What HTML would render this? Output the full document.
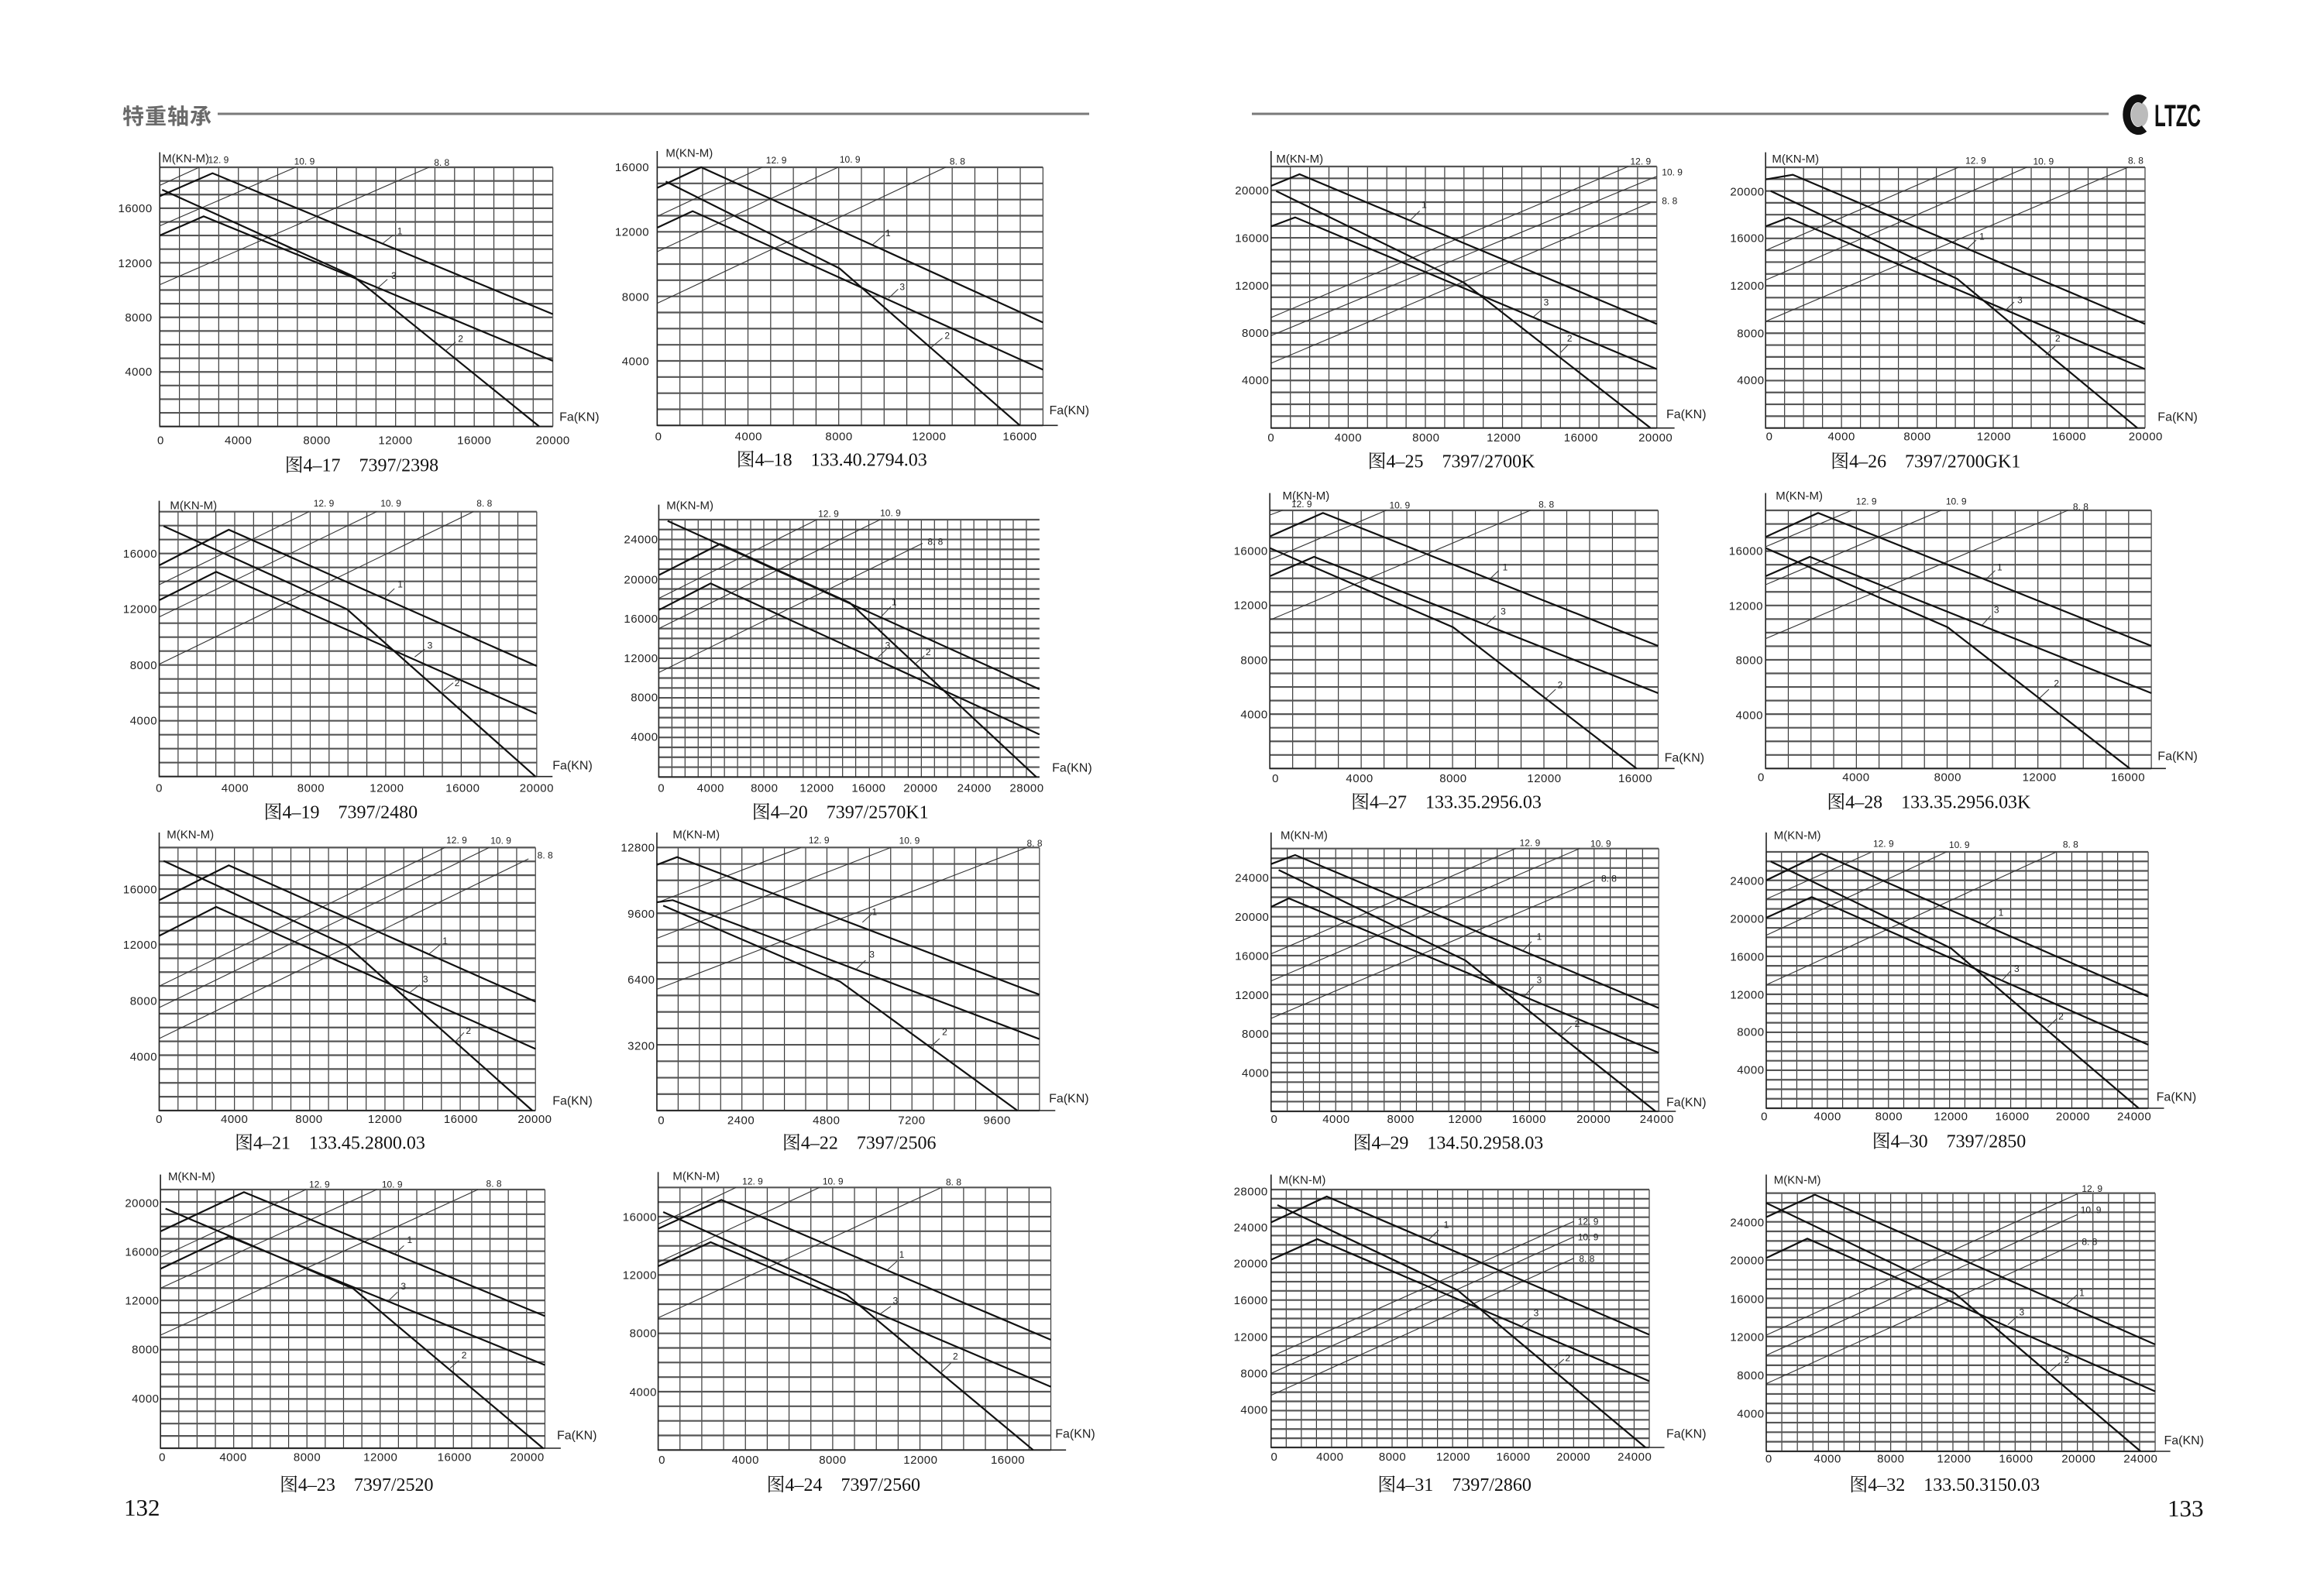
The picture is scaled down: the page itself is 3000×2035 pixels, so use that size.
<!DOCTYPE html>
<html><head><meta charset="utf-8">
<style>
html,body{margin:0;padding:0;background:#fff}
svg{display:block}
.z path{vector-effect:non-scaling-stroke;fill:none}
.gv{stroke:#3a3a3a;stroke-width:1.2}
.gh{stroke:#555;stroke-width:2.2}
.ax{stroke:#222;stroke-width:1.6}
.gr{stroke:#333;stroke-width:1.1}
.cv{stroke:#111;stroke-width:2.2}
.ld{stroke:#333;stroke-width:1}
text{font-family:"Liberation Sans",Arial,sans-serif;fill:#222}
.tk{font-size:45px;letter-spacing:1.5px}
.gl{font-size:36px}
.nl{font-size:36px}
.ml{font-size:45px}
.fa{font-size:48px}
.cap{font-family:"Liberation Serif","Noto Serif CJK SC",serif;font-size:72px;fill:#111}
</style></head><body>
<svg width="3000" height="2035" viewBox="0 0 3000 2035" xmlns="http://www.w3.org/2000/svg">
<rect width="3000" height="2035" fill="#fff"/>
<!-- header -->
<text x="158" y="160" style="font-family:'Noto Sans CJK SC','Liberation Sans',sans-serif;font-size:28px;font-weight:bold;fill:#6a6a6a;letter-spacing:1px">特重轴承</text>
<line x1="281" y1="147" x2="1406" y2="147" stroke="#7a7a7a" stroke-width="3"/>
<line x1="1616" y1="147" x2="2722" y2="147" stroke="#7a7a7a" stroke-width="3"/>
<ellipse cx="2762" cy="148" rx="11" ry="16" fill="#bbb"/>
<path d="M2768,130 A15,21 0 1 0 2768,166" stroke="#111" stroke-width="10" fill="none"/>
<text x="2781" y="163" textLength="60" lengthAdjust="spacingAndGlyphs" style="font-family:'Liberation Sans',sans-serif;font-weight:bold;font-size:40px;fill:#111">LTZC</text>
<text x="160" y="1957" style="font-family:'Liberation Serif',serif;font-size:31px;fill:#111">132</text>
<text x="2798" y="1958" style="font-family:'Liberation Serif',serif;font-size:31px;fill:#111">133</text>

<!-- Z1: 4-17 -->
<svg class="z" x="150" y="190" width="600" height="440" viewBox="0 0 1568 1320" preserveAspectRatio="none" overflow="visible">
<path class="gv" d="M147,78v1004m66.3-1004v1004m66.3-1004v1004m66.3-1004v1004m66.3-1004v1004m66.3-1004v1004m66.3-1004v1004m66.3-1004v1004m66.3-1004v1004m66.3-1004v1004m66.3-1004v1004m66.3-1004v1004m66.3-1004v1004m66.3-1004v1004m66.3-1004v1004m66.3-1004v1004m66.3-1004v1004m66.3-1004v1004m66.3-1004v1004m66.3-1004v1004m66.3-1004v1004"/>
<path class="gh" d="M147,1082h1326m-1326-52.84h1326m-1326-52.84h1326m-1326-52.84h1326m-1326-52.84h1326m-1326-52.84h1326m-1326-52.84h1326m-1326-52.84h1326m-1326-52.84h1326m-1326-52.84h1326m-1326-52.84h1326m-1326-52.84h1326m-1326-52.84h1326m-1326-52.84h1326m-1326-52.84h1326m-1326-52.84h1326m-1326-52.84h1326m-1326-52.84h1326m-1326-52.84h1326m-1326-52.84h1326"/>
<path class="ax" d="M147,20V1082H1473"/>
<path class="gr" d="M147,148L280,78M147,305L605,78M147,533L1055,78"/>
<path class="cv" d="M147,190L325,101L1473,647M155,165L800,500L1427,1082M147,342L295,268L800,505L1473,828"/>
<path class="ld" d="M900,372L935,340M880,548L915,512M1110,790L1145,755"/>
<g class="tk" text-anchor="end">
<text transform="translate(122 252)scale(.871 1)">16000</text>
<text transform="translate(122 465)scale(.871 1)">12000</text>
<text transform="translate(122 675)scale(.871 1)">8000</text>
<text transform="translate(122 885)scale(.871 1)">4000</text>
</g>
<g class="tk" text-anchor="middle">
<text transform="translate(150 1150)scale(.871 1)">0</text>
<text transform="translate(412 1150)scale(.871 1)">4000</text>
<text transform="translate(677 1150)scale(.871 1)">8000</text>
<text transform="translate(942 1150)scale(.871 1)">12000</text>
<text transform="translate(1208 1150)scale(.871 1)">16000</text>
<text transform="translate(1473 1150)scale(.871 1)">20000</text>
</g>
<text class="ml" transform="translate(155 58)scale(.871 1)">M(KN-M)</text>
<g class="gl">
<text transform="translate(310 62)scale(.871 1)">12. 9</text>
<text transform="translate(600 68)scale(.871 1)">10. 9</text>
<text transform="translate(1072 72)scale(.871 1)">8. 8</text>
<text transform="translate(948 337)scale(.871 1)">1</text>
<text transform="translate(928 510)scale(.871 1)">3</text>
<text transform="translate(1153 755)scale(.871 1)">2</text>
</g>
<text class="fa" transform="translate(1495 1060)scale(.871 1)">Fa(KN)</text>
<text class="cap" text-anchor="middle" transform="translate(828 1255)scale(.871 1)">图4–17　7397/2398</text>
</svg>

<!-- Z3: 4-18 -->
<svg class="z" x="790" y="185" width="640" height="440" viewBox="0 0 1568 1320" preserveAspectRatio="none" overflow="visible">
<path class="gv" d="M143,93v1000m71.765-1000v1000m71.765-1000v1000m71.765-1000v1000m71.765-1000v1000m71.765-1000v1000m71.765-1000v1000m71.765-1000v1000m71.765-1000v1000m71.765-1000v1000m71.765-1000v1000m71.765-1000v1000m71.765-1000v1000m71.765-1000v1000m71.765-1000v1000m71.765-1000v1000m71.765-1000v1000m71.765-1000v1000"/>
<path class="gh" d="M143,1093h1220m-1220-62.5h1220m-1220-62.5h1220m-1220-62.5h1220m-1220-62.5h1220m-1220-62.5h1220m-1220-62.5h1220m-1220-62.5h1220m-1220-62.5h1220m-1220-62.5h1220m-1220-62.5h1220m-1220-62.5h1220m-1220-62.5h1220m-1220-62.5h1220m-1220-62.5h1220m-1220-62.5h1220m-1220-62.5h1220"/>
<path class="ax" d="M143,30V1093H1410"/>
<path class="gr" d="M143,283L475,93M143,420L715,93M143,620L1055,93"/>
<path class="cv" d="M143,173L282,93L1363,694M170,148L720,485L1290,1093M143,327L255,263L1363,877"/>
<path class="ld" d="M825,392L860,355M875,600L905,565M1010,790L1045,755"/>
<g class="tk" text-anchor="end">
<text transform="translate(118 108)scale(.817 1)">16000</text>
<text transform="translate(118 358)scale(.817 1)">12000</text>
<text transform="translate(118 610)scale(.817 1)">8000</text>
<text transform="translate(118 860)scale(.817 1)">4000</text>
</g>
<g class="tk" text-anchor="middle">
<text transform="translate(147 1150)scale(.817 1)">0</text>
<text transform="translate(432 1150)scale(.817 1)">4000</text>
<text transform="translate(718 1150)scale(.817 1)">8000</text>
<text transform="translate(1003 1150)scale(.817 1)">12000</text>
<text transform="translate(1290 1150)scale(.817 1)">16000</text>
</g>
<text class="ml" transform="translate(170 52)scale(.817 1)">M(KN-M)</text>
<g class="gl">
<text transform="translate(487 78)scale(.817 1)">12. 9</text>
<text transform="translate(720 75)scale(.817 1)">10. 9</text>
<text transform="translate(1068 82)scale(.817 1)">8. 8</text>
<text transform="translate(865 360)scale(.817 1)">1</text>
<text transform="translate(910 568)scale(.817 1)">3</text>
<text transform="translate(1052 758)scale(.817 1)">2</text>
</g>
<text class="fa" transform="translate(1383 1050)scale(.817 1)">Fa(KN)</text>
<text class="cap" text-anchor="middle" transform="translate(695 1250)scale(.817 1)">图4–18　133.40.2794.03</text>
</svg>

<!-- Z4: 4-19, 4-20 -->
<svg class="z" x="150" y="640" width="1280" height="440" viewBox="0 0 1568 1320" preserveAspectRatio="none" overflow="visible">
<path class="gv" d="M68,62v1026m29.85-1026v1026m29.85-1026v1026m29.85-1026v1026m29.85-1026v1026m29.85-1026v1026m29.85-1026v1026m29.85-1026v1026m29.85-1026v1026m29.85-1026v1026m29.85-1026v1026m29.85-1026v1026m29.85-1026v1026m29.85-1026v1026m29.85-1026v1026m29.85-1026v1026m29.85-1026v1026m29.85-1026v1026m29.85-1026v1026m29.85-1026v1026m29.85-1026v1026"/>
<path class="gh" d="M68,1088h597m-597-54h597m-597-54h597m-597-54h597m-597-54h597m-597-54h597m-597-54h597m-597-54h597m-597-54h597m-597-54h597m-597-54h597m-597-54h597m-597-54h597m-597-54h597m-597-54h597m-597-54h597m-597-54h597m-597-54h597m-597-54h597m-597-54h597"/>
<path class="ax" d="M68,20V1088H690"/>
<path class="gr" d="M68,345L305,62M68,470L412,62M68,653L565,62"/>
<path class="cv" d="M68,270L178,132L665,660M75,118L365,440L663,1088M68,405L158,295L665,845"/>
<path class="ld" d="M425,395L440,360M472,625L488,595M518,755L533,725"/>
<g class="tk" text-anchor="end">
<text transform="translate(65 240)scale(.4083 1)">16000</text>
<text transform="translate(65 455)scale(.4083 1)">12000</text>
<text transform="translate(65 672)scale(.4083 1)">8000</text>
<text transform="translate(65 887)scale(.4083 1)">4000</text>
</g>
<g class="tk" text-anchor="middle">
<text transform="translate(68 1147)scale(.4083 1)">0</text>
<text transform="translate(188 1147)scale(.4083 1)">4000</text>
<text transform="translate(308 1147)scale(.4083 1)">8000</text>
<text transform="translate(428 1147)scale(.4083 1)">12000</text>
<text transform="translate(548 1147)scale(.4083 1)">16000</text>
<text transform="translate(665 1147)scale(.4083 1)">20000</text>
</g>
<text class="ml" transform="translate(85 52)scale(.4083 1)">M(KN-M)</text>
<g class="gl">
<text transform="translate(312 42)scale(.4083 1)">12. 9</text>
<text transform="translate(418 42)scale(.4083 1)">10. 9</text>
<text transform="translate(570 42)scale(.4083 1)">8. 8</text>
<text transform="translate(445 355)scale(.4083 1)">1</text>
<text transform="translate(492 592)scale(.4083 1)">3</text>
<text transform="translate(535 738)scale(.4083 1)">2</text>
</g>
<text class="fa" transform="translate(690 1060)scale(.4083 1)">Fa(KN)</text>
<text class="cap" text-anchor="middle" transform="translate(355 1250)scale(.4083 1)">图4–19　7397/2480</text>

<path class="gv" d="M858,93v997m20.76-997v997m20.76-997v997m20.76-997v997m20.76-997v997m20.76-997v997m20.76-997v997m20.76-997v997m20.76-997v997m20.76-997v997m20.76-997v997m20.76-997v997m20.76-997v997m20.76-997v997m20.76-997v997m20.76-997v997m20.76-997v997m20.76-997v997m20.76-997v997m20.76-997v997m20.76-997v997m20.76-997v997m20.76-997v997m20.76-997v997m20.76-997v997m20.76-997v997m20.76-997v997m20.76-997v997m20.76-997v997"/>
<path class="gh" d="M858,1090h602m-602-38.346h602m-602-38.346h602m-602-38.346h602m-602-38.346h602m-602-38.346h602m-602-38.346h602m-602-38.346h602m-602-38.346h602m-602-38.346h602m-602-38.346h602m-602-38.346h602m-602-38.346h602m-602-38.346h602m-602-38.346h602m-602-38.346h602m-602-38.346h602m-602-38.346h602m-602-38.346h602m-602-38.346h602m-602-38.346h602m-602-38.346h602m-602-38.346h602m-602-38.346h602m-602-38.346h602m-602-38.346h602m-602-38.346h602"/>
<path class="ax" d="M858,35V1090H1460"/>
<path class="gr" d="M858,398L1108,93M858,515L1208,93M858,685L1275,185"/>
<path class="cv" d="M872,98L1460,750M858,308L955,187L1160,415L1455,1090M858,443L940,340L1460,925"/>
<path class="ld" d="M1210,468L1225,430M1205,625L1218,595M1262,655L1278,620"/>
<g class="tk" text-anchor="end">
<text transform="translate(857 185)scale(.4083 1)">24000</text>
<text transform="translate(857 340)scale(.4083 1)">20000</text>
<text transform="translate(857 492)scale(.4083 1)">16000</text>
<text transform="translate(857 645)scale(.4083 1)">12000</text>
<text transform="translate(857 797)scale(.4083 1)">8000</text>
<text transform="translate(857 950)scale(.4083 1)">4000</text>
</g>
<g class="tk" text-anchor="middle">
<text transform="translate(862 1147)scale(.4083 1)">0</text>
<text transform="translate(940 1147)scale(.4083 1)">4000</text>
<text transform="translate(1025 1147)scale(.4083 1)">8000</text>
<text transform="translate(1108 1147)scale(.4083 1)">12000</text>
<text transform="translate(1190 1147)scale(.4083 1)">16000</text>
<text transform="translate(1272 1147)scale(.4083 1)">20000</text>
<text transform="translate(1357 1147)scale(.4083 1)">24000</text>
<text transform="translate(1440 1147)scale(.4083 1)">28000</text>
</g>
<text class="ml" transform="translate(870 52)scale(.4083 1)">M(KN-M)</text>
<g class="gl">
<text transform="translate(1110 82)scale(.4083 1)">12. 9</text>
<text transform="translate(1208 80)scale(.4083 1)">10. 9</text>
<text transform="translate(1283 190)scale(.4083 1)">8. 8</text>
<text transform="translate(1226 425)scale(.4083 1)">1</text>
<text transform="translate(1216 592)scale(.4083 1)">3</text>
<text transform="translate(1280 618)scale(.4083 1)">2</text>
</g>
<text class="fa" transform="translate(1480 1070)scale(.4083 1)">Fa(KN)</text>
<text class="cap" text-anchor="middle" transform="translate(1145 1250)scale(.4083 1)">图4–20　7397/2570K1</text>
</svg>

<!-- Z5: 4-21, 4-22 -->
<svg class="z" x="150" y="1085" width="1280" height="440" viewBox="0 0 1568 1320" preserveAspectRatio="none" overflow="visible">
<path class="gv" d="M68,28v1019m29.75-1019v1019m29.75-1019v1019m29.75-1019v1019m29.75-1019v1019m29.75-1019v1019m29.75-1019v1019m29.75-1019v1019m29.75-1019v1019m29.75-1019v1019m29.75-1019v1019m29.75-1019v1019m29.75-1019v1019m29.75-1019v1019m29.75-1019v1019m29.75-1019v1019m29.75-1019v1019m29.75-1019v1019m29.75-1019v1019m29.75-1019v1019m29.75-1019v1019"/>
<path class="gh" d="M68,1047h595m-595-53.63h595m-595-53.63h595m-595-53.63h595m-595-53.63h595m-595-53.63h595m-595-53.63h595m-595-53.63h595m-595-53.63h595m-595-53.63h595m-595-53.63h595m-595-53.63h595m-595-53.63h595m-595-53.63h595m-595-53.63h595m-595-53.63h595m-595-53.63h595m-595-53.63h595m-595-53.63h595m-595-53.63h595"/>
<path class="ax" d="M68,-30V1047H663"/>
<path class="gr" d="M68,565L520,28M68,648L590,28M68,768L652,72"/>
<path class="cv" d="M68,232L178,97L663,625M75,80L365,408L658,1047M68,370L158,258L663,808"/>
<path class="ld" d="M495,440L512,405M465,588L480,560M537,778L550,745"/>
<g class="tk" text-anchor="end">
<text transform="translate(65 205)scale(.4083 1)">16000</text>
<text transform="translate(65 420)scale(.4083 1)">12000</text>
<text transform="translate(65 637)scale(.4083 1)">8000</text>
<text transform="translate(65 853)scale(.4083 1)">4000</text>
</g>
<g class="tk" text-anchor="middle">
<text transform="translate(68 1095)scale(.4083 1)">0</text>
<text transform="translate(187 1095)scale(.4083 1)">4000</text>
<text transform="translate(305 1095)scale(.4083 1)">8000</text>
<text transform="translate(425 1095)scale(.4083 1)">12000</text>
<text transform="translate(545 1095)scale(.4083 1)">16000</text>
<text transform="translate(662 1095)scale(.4083 1)">20000</text>
</g>
<text class="ml" transform="translate(80 -8)scale(.4083 1)">M(KN-M)</text>
<g class="gl">
<text transform="translate(522 12)scale(.4083 1)">12. 9</text>
<text transform="translate(592 14)scale(.4083 1)">10. 9</text>
<text transform="translate(666 70)scale(.4083 1)">8. 8</text>
<text transform="translate(516 402)scale(.4083 1)">1</text>
<text transform="translate(485 550)scale(.4083 1)">3</text>
<text transform="translate(553 750)scale(.4083 1)">2</text>
</g>
<text class="fa" transform="translate(690 1025)scale(.4083 1)">Fa(KN)</text>
<text class="cap" text-anchor="middle" transform="translate(338 1195)scale(.4083 1)">图4–21　133.45.2800.03</text>

<path class="gv" d="M855,28v1019m33.61-1019v1019m33.61-1019v1019m33.61-1019v1019m33.61-1019v1019m33.61-1019v1019m33.61-1019v1019m33.61-1019v1019m33.61-1019v1019m33.61-1019v1019m33.61-1019v1019m33.61-1019v1019m33.61-1019v1019m33.61-1019v1019m33.61-1019v1019m33.61-1019v1019m33.61-1019v1019m33.61-1019v1019m33.61-1019v1019"/>
<path class="gh" d="M855,1047h605m-605-63.69h605m-605-63.69h605m-605-63.69h605m-605-63.69h605m-605-63.69h605m-605-63.69h605m-605-63.69h605m-605-63.69h605m-605-63.69h605m-605-63.69h605m-605-63.69h605m-605-63.69h605m-605-63.69h605m-605-63.69h605m-605-63.69h605m-605-63.69h605"/>
<path class="ax" d="M855,-30V1047H1485"/>
<path class="gr" d="M855,242L1083,28M855,380L1225,28M855,577L1440,28"/>
<path class="cv" d="M855,95L887,65L1460,598M855,240L880,232L1460,770M865,253L1145,548L1425,1047"/>
<path class="ld" d="M1180,318L1195,285M1170,500L1185,465M1288,800L1302,768"/>
<g class="tk" text-anchor="end">
<text transform="translate(852 43)scale(.4083 1)">12800</text>
<text transform="translate(852 300)scale(.4083 1)">9600</text>
<text transform="translate(852 555)scale(.4083 1)">6400</text>
<text transform="translate(852 812)scale(.4083 1)">3200</text>
</g>
<g class="tk" text-anchor="middle">
<text transform="translate(862 1100)scale(.4083 1)">0</text>
<text transform="translate(988 1100)scale(.4083 1)">2400</text>
<text transform="translate(1123 1100)scale(.4083 1)">4800</text>
<text transform="translate(1258 1100)scale(.4083 1)">7200</text>
<text transform="translate(1393 1100)scale(.4083 1)">9600</text>
</g>
<text class="ml" transform="translate(880 -8)scale(.4083 1)">M(KN-M)</text>
<g class="gl">
<text transform="translate(1095 12)scale(.4083 1)">12. 9</text>
<text transform="translate(1238 14)scale(.4083 1)">10. 9</text>
<text transform="translate(1440 24)scale(.4083 1)">8. 8</text>
<text transform="translate(1195 290)scale(.4083 1)">1</text>
<text transform="translate(1191 455)scale(.4083 1)">3</text>
<text transform="translate(1306 755)scale(.4083 1)">2</text>
</g>
<text class="fa" transform="translate(1475 1015)scale(.4083 1)">Fa(KN)</text>
<text class="cap" text-anchor="middle" transform="translate(1175 1195)scale(.4083 1)">图4–22　7397/2506</text>
</svg>

<!-- Z6: 4-23, 4-24 -->
<svg class="z" x="150" y="1520" width="1280" height="440" viewBox="0 0 1568 1320" preserveAspectRatio="none" overflow="visible">
<path class="gv" d="M70,48v1002m28.95-1002v1002m28.95-1002v1002m28.95-1002v1002m28.95-1002v1002m28.95-1002v1002m28.95-1002v1002m28.95-1002v1002m28.95-1002v1002m28.95-1002v1002m28.95-1002v1002m28.95-1002v1002m28.95-1002v1002m28.95-1002v1002m28.95-1002v1002m28.95-1002v1002m28.95-1002v1002m28.95-1002v1002m28.95-1002v1002m28.95-1002v1002m28.95-1002v1002m28.95-1002v1002"/>
<path class="gh" d="M70,1050h608m-608-47.71h608m-608-47.71h608m-608-47.71h608m-608-47.71h608m-608-47.71h608m-608-47.71h608m-608-47.71h608m-608-47.71h608m-608-47.71h608m-608-47.71h608m-608-47.71h608m-608-47.71h608m-608-47.71h608m-608-47.71h608m-608-47.71h608m-608-47.71h608m-608-47.71h608m-608-47.71h608m-608-47.71h608m-608-47.71h608m-608-47.71h608"/>
<path class="ax" d="M70,-10V1050H703"/>
<path class="gr" d="M70,310L300,48M70,430L412,48M70,612L572,48"/>
<path class="cv" d="M70,210L202,58L678,538M78,122L375,432L675,1050M70,355L178,230L678,728"/>
<path class="ld" d="M440,298L455,265M430,480L445,445M528,740L542,710"/>
<g class="tk" text-anchor="end">
<text transform="translate(68 115)scale(.4083 1)">20000</text>
<text transform="translate(68 305)scale(.4083 1)">16000</text>
<text transform="translate(68 493)scale(.4083 1)">12000</text>
<text transform="translate(68 683)scale(.4083 1)">8000</text>
<text transform="translate(68 873)scale(.4083 1)">4000</text>
</g>
<g class="tk" text-anchor="middle">
<text transform="translate(73 1100)scale(.4083 1)">0</text>
<text transform="translate(185 1100)scale(.4083 1)">4000</text>
<text transform="translate(302 1100)scale(.4083 1)">8000</text>
<text transform="translate(418 1100)scale(.4083 1)">12000</text>
<text transform="translate(535 1100)scale(.4083 1)">16000</text>
<text transform="translate(650 1100)scale(.4083 1)">20000</text>
</g>
<text class="ml" transform="translate(82 12)scale(.4083 1)">M(KN-M)</text>
<g class="gl">
<text transform="translate(305 40)scale(.4083 1)">12. 9</text>
<text transform="translate(420 40)scale(.4083 1)">10. 9</text>
<text transform="translate(585 38)scale(.4083 1)">8. 8</text>
<text transform="translate(460 255)scale(.4083 1)">1</text>
<text transform="translate(450 435)scale(.4083 1)">3</text>
<text transform="translate(546 702)scale(.4083 1)">2</text>
</g>
<text class="fa" transform="translate(697 1015)scale(.4083 1)">Fa(KN)</text>
<text class="cap" text-anchor="middle" transform="translate(380 1215)scale(.4083 1)">图4–23　7397/2520</text>

<path class="gv" d="M857,40v1017m34.5-1017v1017m34.5-1017v1017m34.5-1017v1017m34.5-1017v1017m34.5-1017v1017m34.5-1017v1017m34.5-1017v1017m34.5-1017v1017m34.5-1017v1017m34.5-1017v1017m34.5-1017v1017m34.5-1017v1017m34.5-1017v1017m34.5-1017v1017m34.5-1017v1017m34.5-1017v1017m34.5-1017v1017m34.5-1017v1017"/>
<path class="gh" d="M857,1057h621m-621-56.5h621m-621-56.5h621m-621-56.5h621m-621-56.5h621m-621-56.5h621m-621-56.5h621m-621-56.5h621m-621-56.5h621m-621-56.5h621m-621-56.5h621m-621-56.5h621m-621-56.5h621m-621-56.5h621m-621-56.5h621m-621-56.5h621m-621-56.5h621m-621-56.5h621m-621-56.5h621"/>
<path class="ax" d="M857,-20V1057H1502"/>
<path class="gr" d="M857,182L980,40M857,330L1112,40M857,545L1305,40"/>
<path class="cv" d="M857,200L957,88L1478,630M865,135L1155,455L1450,1057M857,345L940,252L1478,812"/>
<path class="ld" d="M1220,358L1235,325M1208,530L1225,500M1305,755L1320,720"/>
<g class="tk" text-anchor="end">
<text transform="translate(855 170)scale(.4083 1)">16000</text>
<text transform="translate(855 395)scale(.4083 1)">12000</text>
<text transform="translate(855 620)scale(.4083 1)">8000</text>
<text transform="translate(855 847)scale(.4083 1)">4000</text>
</g>
<g class="tk" text-anchor="middle">
<text transform="translate(863 1110)scale(.4083 1)">0</text>
<text transform="translate(995 1110)scale(.4083 1)">4000</text>
<text transform="translate(1133 1110)scale(.4083 1)">8000</text>
<text transform="translate(1272 1110)scale(.4083 1)">12000</text>
<text transform="translate(1410 1110)scale(.4083 1)">16000</text>
</g>
<text class="ml" transform="translate(880 10)scale(.4083 1)">M(KN-M)</text>
<g class="gl">
<text transform="translate(990 28)scale(.4083 1)">12. 9</text>
<text transform="translate(1117 28)scale(.4083 1)">10. 9</text>
<text transform="translate(1312 32)scale(.4083 1)">8. 8</text>
<text transform="translate(1238 312)scale(.4083 1)">1</text>
<text transform="translate(1228 490)scale(.4083 1)">3</text>
<text transform="translate(1323 707)scale(.4083 1)">2</text>
</g>
<text class="fa" transform="translate(1485 1010)scale(.4083 1)">Fa(KN)</text>
<text class="cap" text-anchor="middle" transform="translate(1150 1215)scale(.4083 1)">图4–24　7397/2560</text>
</svg>

<!-- Z7: 4-25, 4-26 -->
<svg class="z" x="1600" y="185" width="1280" height="440" viewBox="0 0 1568 1320" preserveAspectRatio="none" overflow="visible">
<path class="gv" d="M50,90v1013m30.5-1013v1013m30.5-1013v1013m30.5-1013v1013m30.5-1013v1013m30.5-1013v1013m30.5-1013v1013m30.5-1013v1013m30.5-1013v1013m30.5-1013v1013m30.5-1013v1013m30.5-1013v1013m30.5-1013v1013m30.5-1013v1013m30.5-1013v1013m30.5-1013v1013m30.5-1013v1013m30.5-1013v1013m30.5-1013v1013m30.5-1013v1013m30.5-1013v1013"/>
<path class="gh" d="M50,1103h610m-610-46.05h610m-610-46.05h610m-610-46.05h610m-610-46.05h610m-610-46.05h610m-610-46.05h610m-610-46.05h610m-610-46.05h610m-610-46.05h610m-610-46.05h610m-610-46.05h610m-610-46.05h610m-610-46.05h610m-610-46.05h610m-610-46.05h610m-610-46.05h610m-610-46.05h610m-610-46.05h610m-610-46.05h610m-610-46.05h610m-610-46.05h610m-610-46.05h610"/>
<path class="ax" d="M50,30V1103H688"/>
<path class="gr" d="M50,675L615,90M50,745L660,128M50,852L650,230"/>
<path class="cv" d="M50,165L95,120L660,700M58,185L355,540L650,1103M50,322L88,287L660,875"/>
<path class="ld" d="M270,298L285,262M465,672L480,640M508,810L520,780"/>
<g class="tk" text-anchor="end">
<text transform="translate(47 198)scale(.4083 1)">20000</text>
<text transform="translate(47 382)scale(.4083 1)">16000</text>
<text transform="translate(47 567)scale(.4083 1)">12000</text>
<text transform="translate(47 750)scale(.4083 1)">8000</text>
<text transform="translate(47 933)scale(.4083 1)">4000</text>
</g>
<g class="tk" text-anchor="middle">
<text transform="translate(50 1155)scale(.4083 1)">0</text>
<text transform="translate(172 1155)scale(.4083 1)">4000</text>
<text transform="translate(295 1155)scale(.4083 1)">8000</text>
<text transform="translate(418 1155)scale(.4083 1)">12000</text>
<text transform="translate(540 1155)scale(.4083 1)">16000</text>
<text transform="translate(658 1155)scale(.4083 1)">20000</text>
</g>
<text class="ml" transform="translate(58 75)scale(.4083 1)">M(KN-M)</text>
<g class="gl">
<text transform="translate(618 82)scale(.4083 1)">12. 9</text>
<text transform="translate(668 125)scale(.4083 1)">10. 9</text>
<text transform="translate(668 235)scale(.4083 1)">8. 8</text>
<text transform="translate(288 250)scale(.4083 1)">1</text>
<text transform="translate(481 628)scale(.4083 1)">3</text>
<text transform="translate(518 768)scale(.4083 1)">2</text>
</g>
<text class="fa" transform="translate(675 1065)scale(.4083 1)">Fa(KN)</text>
<text class="cap" text-anchor="middle" transform="translate(335 1255)scale(.4083 1)">图4–25　7397/2700K</text>

<path class="gv" d="M832,93v1010m30-1010v1010m30-1010v1010m30-1010v1010m30-1010v1010m30-1010v1010m30-1010v1010m30-1010v1010m30-1010v1010m30-1010v1010m30-1010v1010m30-1010v1010m30-1010v1010m30-1010v1010m30-1010v1010m30-1010v1010m30-1010v1010m30-1010v1010m30-1010v1010m30-1010v1010m30-1010v1010"/>
<path class="gh" d="M832,1103h600m-600-45.91h600m-600-45.91h600m-600-45.91h600m-600-45.91h600m-600-45.91h600m-600-45.91h600m-600-45.91h600m-600-45.91h600m-600-45.91h600m-600-45.91h600m-600-45.91h600m-600-45.91h600m-600-45.91h600m-600-45.91h600m-600-45.91h600m-600-45.91h600m-600-45.91h600m-600-45.91h600m-600-45.91h600m-600-45.91h600m-600-45.91h600m-600-45.91h600"/>
<path class="ax" d="M832,35V1103H1432"/>
<path class="gr" d="M832,415L1137,93M832,530L1245,93M832,690L1405,93"/>
<path class="cv" d="M832,140L875,122L1432,700M840,185L1135,525L1420,1103M832,322L868,288L1432,875"/>
<path class="ld" d="M1150,410L1165,375M1210,650L1225,615M1275,820L1290,785"/>
<g class="tk" text-anchor="end">
<text transform="translate(830 202)scale(.4083 1)">20000</text>
<text transform="translate(830 383)scale(.4083 1)">16000</text>
<text transform="translate(830 567)scale(.4083 1)">12000</text>
<text transform="translate(830 752)scale(.4083 1)">8000</text>
<text transform="translate(830 933)scale(.4083 1)">4000</text>
</g>
<g class="tk" text-anchor="middle">
<text transform="translate(838 1150)scale(.4083 1)">0</text>
<text transform="translate(952 1150)scale(.4083 1)">4000</text>
<text transform="translate(1072 1150)scale(.4083 1)">8000</text>
<text transform="translate(1193 1150)scale(.4083 1)">12000</text>
<text transform="translate(1312 1150)scale(.4083 1)">16000</text>
<text transform="translate(1433 1150)scale(.4083 1)">20000</text>
</g>
<text class="ml" transform="translate(842 75)scale(.4083 1)">M(KN-M)</text>
<g class="gl">
<text transform="translate(1148 80)scale(.4083 1)">12. 9</text>
<text transform="translate(1255 82)scale(.4083 1)">10. 9</text>
<text transform="translate(1405 80)scale(.4083 1)">8. 8</text>
<text transform="translate(1170 373)scale(.4083 1)">1</text>
<text transform="translate(1230 620)scale(.4083 1)">3</text>
<text transform="translate(1290 768)scale(.4083 1)">2</text>
</g>
<text class="fa" transform="translate(1452 1075)scale(.4083 1)">Fa(KN)</text>
<text class="cap" text-anchor="middle" transform="translate(1085 1255)scale(.4083 1)">图4–26　7397/2700GK1</text>
</svg>

<!-- Z8: 4-27, 4-28 -->
<svg class="z" x="1600" y="640" width="1280" height="440" viewBox="0 0 1568 1320" preserveAspectRatio="none" overflow="visible">
<path class="gv" d="M48,57v1000m36.12-1000v1000m36.12-1000v1000m36.12-1000v1000m36.12-1000v1000m36.12-1000v1000m36.12-1000v1000m36.12-1000v1000m36.12-1000v1000m36.12-1000v1000m36.12-1000v1000m36.12-1000v1000m36.12-1000v1000m36.12-1000v1000m36.12-1000v1000m36.12-1000v1000m36.12-1000v1000m36.12-1000v1000"/>
<path class="gh" d="M48,1057h614m-614-52.63h614m-614-52.63h614m-614-52.63h614m-614-52.63h614m-614-52.63h614m-614-52.63h614m-614-52.63h614m-614-52.63h614m-614-52.63h614m-614-52.63h614m-614-52.63h614m-614-52.63h614m-614-52.63h614m-614-52.63h614m-614-52.63h614m-614-52.63h614m-614-52.63h614m-614-52.63h614m-614-52.63h614"/>
<path class="ax" d="M48,-10V1057H688"/>
<path class="gr" d="M48,75L68,57M48,248L232,57M48,482L460,57"/>
<path class="cv" d="M48,158L132,67L662,582M48,203L338,510L628,1057M48,312L118,237L662,765"/>
<path class="ld" d="M395,325L410,290M390,500L405,465M485,785L500,750"/>
<g class="tk" text-anchor="end">
<text transform="translate(45 230)scale(.4083 1)">16000</text>
<text transform="translate(45 440)scale(.4083 1)">12000</text>
<text transform="translate(45 652)scale(.4083 1)">8000</text>
<text transform="translate(45 862)scale(.4083 1)">4000</text>
</g>
<g class="tk" text-anchor="middle">
<text transform="translate(57 1110)scale(.4083 1)">0</text>
<text transform="translate(190 1110)scale(.4083 1)">4000</text>
<text transform="translate(338 1110)scale(.4083 1)">8000</text>
<text transform="translate(482 1110)scale(.4083 1)">12000</text>
<text transform="translate(626 1110)scale(.4083 1)">16000</text>
</g>
<text class="ml" transform="translate(68 15)scale(.4083 1)">M(KN-M)</text>
<g class="gl">
<text transform="translate(82 45)scale(.4083 1)">12. 9</text>
<text transform="translate(237 50)scale(.4083 1)">10. 9</text>
<text transform="translate(473 47)scale(.4083 1)">8. 8</text>
<text transform="translate(416 290)scale(.4083 1)">1</text>
<text transform="translate(413 460)scale(.4083 1)">3</text>
<text transform="translate(503 745)scale(.4083 1)">2</text>
</g>
<text class="fa" transform="translate(672 1030)scale(.4083 1)">Fa(KN)</text>
<text class="cap" text-anchor="middle" transform="translate(327 1210)scale(.4083 1)">图4–27　133.35.2956.03</text>

<path class="gv" d="M832,57v1000m35.88-1000v1000m35.88-1000v1000m35.88-1000v1000m35.88-1000v1000m35.88-1000v1000m35.88-1000v1000m35.88-1000v1000m35.88-1000v1000m35.88-1000v1000m35.88-1000v1000m35.88-1000v1000m35.88-1000v1000m35.88-1000v1000m35.88-1000v1000m35.88-1000v1000m35.88-1000v1000m35.88-1000v1000"/>
<path class="gh" d="M832,1057h610m-610-52.63h610m-610-52.63h610m-610-52.63h610m-610-52.63h610m-610-52.63h610m-610-52.63h610m-610-52.63h610m-610-52.63h610m-610-52.63h610m-610-52.63h610m-610-52.63h610m-610-52.63h610m-610-52.63h610m-610-52.63h610m-610-52.63h610m-610-52.63h610m-610-52.63h610m-610-52.63h610m-610-52.63h610"/>
<path class="ax" d="M832,-10V1057H1465"/>
<path class="gr" d="M832,198L968,57M832,345L1110,57M832,554L1310,57"/>
<path class="cv" d="M832,160L915,67L1442,582M832,203L1120,510L1408,1057M832,312L902,237L1442,765"/>
<path class="ld" d="M1180,325L1195,290M1175,500L1188,465M1265,785L1280,750"/>
<g class="tk" text-anchor="end">
<text transform="translate(828 230)scale(.4083 1)">16000</text>
<text transform="translate(828 443)scale(.4083 1)">12000</text>
<text transform="translate(828 653)scale(.4083 1)">8000</text>
<text transform="translate(828 865)scale(.4083 1)">4000</text>
</g>
<g class="tk" text-anchor="middle">
<text transform="translate(825 1105)scale(.4083 1)">0</text>
<text transform="translate(975 1105)scale(.4083 1)">4000</text>
<text transform="translate(1120 1105)scale(.4083 1)">8000</text>
<text transform="translate(1265 1105)scale(.4083 1)">12000</text>
<text transform="translate(1405 1105)scale(.4083 1)">16000</text>
</g>
<text class="ml" transform="translate(848 15)scale(.4083 1)">M(KN-M)</text>
<g class="gl">
<text transform="translate(975 35)scale(.4083 1)">12. 9</text>
<text transform="translate(1117 35)scale(.4083 1)">10. 9</text>
<text transform="translate(1318 55)scale(.4083 1)">8. 8</text>
<text transform="translate(1198 290)scale(.4083 1)">1</text>
<text transform="translate(1193 455)scale(.4083 1)">3</text>
<text transform="translate(1288 740)scale(.4083 1)">2</text>
</g>
<text class="fa" transform="translate(1452 1025)scale(.4083 1)">Fa(KN)</text>
<text class="cap" text-anchor="middle" transform="translate(1090 1210)scale(.4083 1)">图4–28　133.35.2956.03K</text>
</svg>

<!-- Z9: 4-29, 4-30 -->
<svg class="z" x="1600" y="1085" width="1280" height="440" viewBox="0 0 1568 1320" preserveAspectRatio="none" overflow="visible">
<path class="gv" d="M50,32v1018m25.54-1018v1018m25.54-1018v1018m25.54-1018v1018m25.54-1018v1018m25.54-1018v1018m25.54-1018v1018m25.54-1018v1018m25.54-1018v1018m25.54-1018v1018m25.54-1018v1018m25.54-1018v1018m25.54-1018v1018m25.54-1018v1018m25.54-1018v1018m25.54-1018v1018m25.54-1018v1018m25.54-1018v1018m25.54-1018v1018m25.54-1018v1018m25.54-1018v1018m25.54-1018v1018m25.54-1018v1018m25.54-1018v1018m25.54-1018v1018"/>
<path class="gh" d="M50,1050h613m-613-37.7h613m-613-37.7h613m-613-37.7h613m-613-37.7h613m-613-37.7h613m-613-37.7h613m-613-37.7h613m-613-37.7h613m-613-37.7h613m-613-37.7h613m-613-37.7h613m-613-37.7h613m-613-37.7h613m-613-37.7h613m-613-37.7h613m-613-37.7h613m-613-37.7h613m-613-37.7h613m-613-37.7h613m-613-37.7h613m-613-37.7h613m-613-37.7h613m-613-37.7h613m-613-37.7h613m-613-37.7h613m-613-37.7h613m-613-37.7h613"/>
<path class="ax" d="M50,-30V1050H690"/>
<path class="gr" d="M50,440L437,32M50,545L538,32M50,690L562,155"/>
<path class="cv" d="M50,92L88,57L663,650M62,115L357,465L658,1050M50,258L78,225L663,823"/>
<path class="ld" d="M448,428L462,392M450,605L465,565M510,755L525,720"/>
<g class="tk" text-anchor="end">
<text transform="translate(47 160)scale(.4083 1)">24000</text>
<text transform="translate(47 312)scale(.4083 1)">20000</text>
<text transform="translate(47 463)scale(.4083 1)">16000</text>
<text transform="translate(47 615)scale(.4083 1)">12000</text>
<text transform="translate(47 765)scale(.4083 1)">8000</text>
<text transform="translate(47 917)scale(.4083 1)">4000</text>
</g>
<g class="tk" text-anchor="middle">
<text transform="translate(55 1095)scale(.4083 1)">0</text>
<text transform="translate(153 1095)scale(.4083 1)">4000</text>
<text transform="translate(255 1095)scale(.4083 1)">8000</text>
<text transform="translate(357 1095)scale(.4083 1)">12000</text>
<text transform="translate(458 1095)scale(.4083 1)">16000</text>
<text transform="translate(560 1095)scale(.4083 1)">20000</text>
<text transform="translate(660 1095)scale(.4083 1)">24000</text>
</g>
<text class="ml" transform="translate(65 -5)scale(.4083 1)">M(KN-M)</text>
<g class="gl">
<text transform="translate(443 22)scale(.4083 1)">12. 9</text>
<text transform="translate(555 25)scale(.4083 1)">10. 9</text>
<text transform="translate(572 160)scale(.4083 1)">8. 8</text>
<text transform="translate(470 385)scale(.4083 1)">1</text>
<text transform="translate(470 553)scale(.4083 1)">3</text>
<text transform="translate(530 723)scale(.4083 1)">2</text>
</g>
<text class="fa" transform="translate(675 1030)scale(.4083 1)">Fa(KN)</text>
<text class="cap" text-anchor="middle" transform="translate(330 1195)scale(.4083 1)">图4–29　134.50.2958.03</text>

<path class="gv" d="M833,45v993m24.16-993v993m24.16-993v993m24.16-993v993m24.16-993v993m24.16-993v993m24.16-993v993m24.16-993v993m24.16-993v993m24.16-993v993m24.16-993v993m24.16-993v993m24.16-993v993m24.16-993v993m24.16-993v993m24.16-993v993m24.16-993v993m24.16-993v993m24.16-993v993m24.16-993v993m24.16-993v993m24.16-993v993m24.16-993v993m24.16-993v993m24.16-993v993m24.16-993v993"/>
<path class="gh" d="M833,1038h604m-604-36.78h604m-604-36.78h604m-604-36.78h604m-604-36.78h604m-604-36.78h604m-604-36.78h604m-604-36.78h604m-604-36.78h604m-604-36.78h604m-604-36.78h604m-604-36.78h604m-604-36.78h604m-604-36.78h604m-604-36.78h604m-604-36.78h604m-604-36.78h604m-604-36.78h604m-604-36.78h604m-604-36.78h604m-604-36.78h604m-604-36.78h604m-604-36.78h604m-604-36.78h604m-604-36.78h604m-604-36.78h604m-604-36.78h604m-604-36.78h604"/>
<path class="ax" d="M833,-30V1038H1462"/>
<path class="gr" d="M833,228L1000,45M833,368L1118,45M833,560L1292,45"/>
<path class="cv" d="M833,155L920,52L1437,605M840,82L1125,418L1422,1038M833,300L905,220L1437,792"/>
<path class="ld" d="M1178,330L1195,295M1205,545L1220,505M1278,725L1293,690"/>
<g class="tk" text-anchor="end">
<text transform="translate(830 173)scale(.4083 1)">24000</text>
<text transform="translate(830 320)scale(.4083 1)">20000</text>
<text transform="translate(830 467)scale(.4083 1)">16000</text>
<text transform="translate(830 613)scale(.4083 1)">12000</text>
<text transform="translate(830 758)scale(.4083 1)">8000</text>
<text transform="translate(830 905)scale(.4083 1)">4000</text>
</g>
<g class="tk" text-anchor="middle">
<text transform="translate(830 1085)scale(.4083 1)">0</text>
<text transform="translate(930 1085)scale(.4083 1)">4000</text>
<text transform="translate(1027 1085)scale(.4083 1)">8000</text>
<text transform="translate(1125 1085)scale(.4083 1)">12000</text>
<text transform="translate(1222 1085)scale(.4083 1)">16000</text>
<text transform="translate(1318 1085)scale(.4083 1)">20000</text>
<text transform="translate(1415 1085)scale(.4083 1)">24000</text>
</g>
<text class="ml" transform="translate(845 -5)scale(.4083 1)">M(KN-M)</text>
<g class="gl">
<text transform="translate(1002 25)scale(.4083 1)">12. 9</text>
<text transform="translate(1122 30)scale(.4083 1)">10. 9</text>
<text transform="translate(1302 28)scale(.4083 1)">8. 8</text>
<text transform="translate(1200 292)scale(.4083 1)">1</text>
<text transform="translate(1225 510)scale(.4083 1)">3</text>
<text transform="translate(1295 695)scale(.4083 1)">2</text>
</g>
<text class="fa" transform="translate(1450 1010)scale(.4083 1)">Fa(KN)</text>
<text class="cap" text-anchor="middle" transform="translate(1122 1190)scale(.4083 1)">图4–30　7397/2850</text>
</svg>

<!-- Z10: 4-31, 4-32 -->
<svg class="z" x="1600" y="1520" width="1280" height="440" viewBox="0 0 1568 1320" preserveAspectRatio="none" overflow="visible">
<path class="gv" d="M50,48v999m23.92-999v999m23.92-999v999m23.92-999v999m23.92-999v999m23.92-999v999m23.92-999v999m23.92-999v999m23.92-999v999m23.92-999v999m23.92-999v999m23.92-999v999m23.92-999v999m23.92-999v999m23.92-999v999m23.92-999v999m23.92-999v999m23.92-999v999m23.92-999v999m23.92-999v999m23.92-999v999m23.92-999v999m23.92-999v999m23.92-999v999m23.92-999v999m23.92-999v999"/>
<path class="gh" d="M50,1047h598m-598-35.68h598m-598-35.68h598m-598-35.68h598m-598-35.68h598m-598-35.68h598m-598-35.68h598m-598-35.68h598m-598-35.68h598m-598-35.68h598m-598-35.68h598m-598-35.68h598m-598-35.68h598m-598-35.68h598m-598-35.68h598m-598-35.68h598m-598-35.68h598m-598-35.68h598m-598-35.68h598m-598-35.68h598m-598-35.68h598m-598-35.68h598m-598-35.68h598m-598-35.68h598m-598-35.68h598m-598-35.68h598m-598-35.68h598m-598-35.68h598m-598-35.68h598"/>
<path class="ax" d="M50,-10V1047H672"/>
<path class="gr" d="M50,695L528,172M50,760L528,232M50,845L528,315"/>
<path class="cv" d="M50,175L138,75L648,610M60,108L345,438L642,1047M50,320L123,240L648,790"/>
<path class="ld" d="M300,240L315,205M447,575L462,545M498,738L513,705"/>
<g class="tk" text-anchor="end">
<text transform="translate(45 70)scale(.4083 1)">28000</text>
<text transform="translate(45 210)scale(.4083 1)">24000</text>
<text transform="translate(45 350)scale(.4083 1)">20000</text>
<text transform="translate(45 492)scale(.4083 1)">16000</text>
<text transform="translate(45 635)scale(.4083 1)">12000</text>
<text transform="translate(45 775)scale(.4083 1)">8000</text>
<text transform="translate(45 917)scale(.4083 1)">4000</text>
</g>
<g class="tk" text-anchor="middle">
<text transform="translate(55 1098)scale(.4083 1)">0</text>
<text transform="translate(143 1098)scale(.4083 1)">4000</text>
<text transform="translate(242 1098)scale(.4083 1)">8000</text>
<text transform="translate(338 1098)scale(.4083 1)">12000</text>
<text transform="translate(433 1098)scale(.4083 1)">16000</text>
<text transform="translate(528 1098)scale(.4083 1)">20000</text>
<text transform="translate(625 1098)scale(.4083 1)">24000</text>
</g>
<text class="ml" transform="translate(62 25)scale(.4083 1)">M(KN-M)</text>
<g class="gl">
<text transform="translate(535 185)scale(.4083 1)">12. 9</text>
<text transform="translate(535 245)scale(.4083 1)">10. 9</text>
<text transform="translate(537 328)scale(.4083 1)">8. 8</text>
<text transform="translate(323 197)scale(.4083 1)">1</text>
<text transform="translate(465 538)scale(.4083 1)">3</text>
<text transform="translate(515 713)scale(.4083 1)">2</text>
</g>
<text class="fa" transform="translate(675 1010)scale(.4083 1)">Fa(KN)</text>
<text class="cap" text-anchor="middle" transform="translate(340 1215)scale(.4083 1)">图4–31　7397/2860</text>

<path class="gv" d="M833,62v1000m24.6-1000v1000m24.6-1000v1000m24.6-1000v1000m24.6-1000v1000m24.6-1000v1000m24.6-1000v1000m24.6-1000v1000m24.6-1000v1000m24.6-1000v1000m24.6-1000v1000m24.6-1000v1000m24.6-1000v1000m24.6-1000v1000m24.6-1000v1000m24.6-1000v1000m24.6-1000v1000m24.6-1000v1000m24.6-1000v1000m24.6-1000v1000m24.6-1000v1000m24.6-1000v1000m24.6-1000v1000m24.6-1000v1000m24.6-1000v1000m24.6-1000v1000"/>
<path class="gh" d="M833,1062h615m-615-37.04h615m-615-37.04h615m-615-37.04h615m-615-37.04h615m-615-37.04h615m-615-37.04h615m-615-37.04h615m-615-37.04h615m-615-37.04h615m-615-37.04h615m-615-37.04h615m-615-37.04h615m-615-37.04h615m-615-37.04h615m-615-37.04h615m-615-37.04h615m-615-37.04h615m-615-37.04h615m-615-37.04h615m-615-37.04h615m-615-37.04h615m-615-37.04h615m-615-37.04h615m-615-37.04h615m-615-37.04h615m-615-37.04h615m-615-37.04h615"/>
<path class="ax" d="M833,-10V1062H1472"/>
<path class="gr" d="M833,612L1325,65M833,690L1325,145M833,800L1325,255"/>
<path class="cv" d="M833,155L910,68L1448,648M833,100L1130,448L1425,1062M833,313L898,238L1448,830"/>
<path class="ld" d="M1308,492L1325,455M1215,572L1230,538M1282,752L1298,718"/>
<g class="tk" text-anchor="end">
<text transform="translate(830 190)scale(.4083 1)">24000</text>
<text transform="translate(830 337)scale(.4083 1)">20000</text>
<text transform="translate(830 487)scale(.4083 1)">16000</text>
<text transform="translate(830 635)scale(.4083 1)">12000</text>
<text transform="translate(830 783)scale(.4083 1)">8000</text>
<text transform="translate(830 932)scale(.4083 1)">4000</text>
</g>
<g class="tk" text-anchor="middle">
<text transform="translate(837 1105)scale(.4083 1)">0</text>
<text transform="translate(930 1105)scale(.4083 1)">4000</text>
<text transform="translate(1030 1105)scale(.4083 1)">8000</text>
<text transform="translate(1130 1105)scale(.4083 1)">12000</text>
<text transform="translate(1228 1105)scale(.4083 1)">16000</text>
<text transform="translate(1327 1105)scale(.4083 1)">20000</text>
<text transform="translate(1425 1105)scale(.4083 1)">24000</text>
</g>
<text class="ml" transform="translate(845 25)scale(.4083 1)">M(KN-M)</text>
<g class="gl">
<text transform="translate(1332 57)scale(.4083 1)">12. 9</text>
<text transform="translate(1330 140)scale(.4083 1)">10. 9</text>
<text transform="translate(1332 262)scale(.4083 1)">8. 8</text>
<text transform="translate(1328 460)scale(.4083 1)">1</text>
<text transform="translate(1233 535)scale(.4083 1)">3</text>
<text transform="translate(1304 720)scale(.4083 1)">2</text>
</g>
<text class="fa" transform="translate(1462 1035)scale(.4083 1)">Fa(KN)</text>
<text class="cap" text-anchor="middle" transform="translate(1115 1215)scale(.4083 1)">图4–32　133.50.3150.03</text>
</svg>
</svg>
</body></html>
